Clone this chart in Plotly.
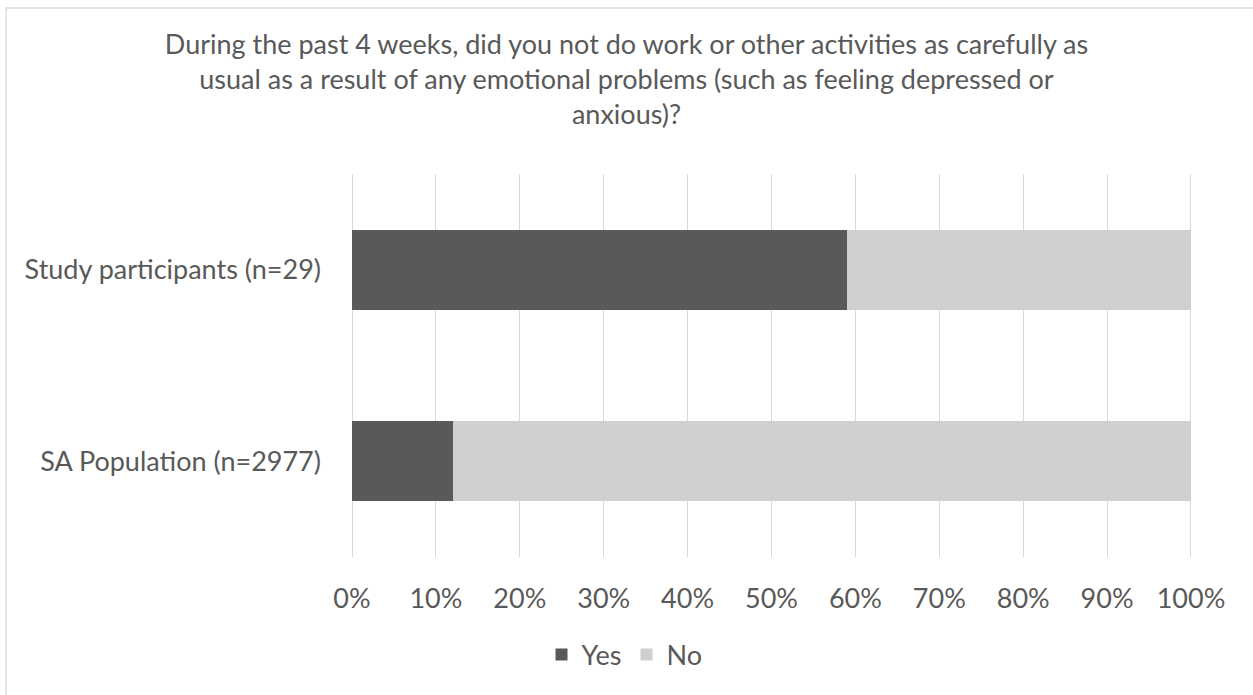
import plotly.graph_objects as go

# Survey responses (percent of respondents)
groups = ["Study participants (n=29)", "SA Population (n=2977)"]
yes_pct = [59, 12]
no_pct = [41, 88]
tick_vals = [0, 10, 20, 30, 40, 50, 60, 70, 80, 90, 100]
tick_text = ["0%", "10%", "20%", "30%", "40%", "50%", "60%", "70%", "80%", "90%", "100%"]

title_text = ("During the past 4 weeks, did you not do work or other activities as carefully as<br>"
              "usual as a result of any emotional problems (such as feeling depressed or<br>"
              "anxious)?")

FONT = "Lato"
TEXT_COLOR = "#595959"
GRID_COLOR = "#d9d9d9"
W, H = 1253, 695
L, R, T, B = 351, 61, 174, 138

fig = go.Figure()
fig.add_trace(go.Bar(y=groups, x=yes_pct, name="Yes", orientation="h",
                     marker=dict(color="#595959", line=dict(width=0))))
fig.add_trace(go.Bar(y=groups, x=no_pct, name="No", orientation="h",
                     marker=dict(color="#d0cece", line=dict(width=0))))

# Chart-area border (light grey frame)
pw, ph = W - L - R, H - T - B
fig.add_shape(type="rect", xref="paper", yref="paper",
              x0=(6 - L) / pw, x1=(W + 10 - L) / pw,
              y0=-(H + 10 - T - ph) / ph, y1=1 + (T - 8) / ph,
              line=dict(color=GRID_COLOR, width=1.3), fillcolor="rgba(0,0,0,0)", layer="below")

fig.update_layout(
    width=W, height=H,
    barmode="stack", bargap=0.58,
    margin=dict(l=L, r=R, t=T, b=B),
    paper_bgcolor="white", plot_bgcolor="white",
    font=dict(family=FONT, color=TEXT_COLOR, size=27),
    title=dict(text=title_text, x=0.5, xanchor="center", xref="container",
               y=1 - 54 / H, yanchor="top", font=dict(size=27, color=TEXT_COLOR)),
    xaxis=dict(range=[-0.12, 100.12], tickvals=tick_vals, ticktext=tick_text,
               showgrid=True, gridcolor=GRID_COLOR, gridwidth=1.3,
               zeroline=False, showline=False, ticks="", ticklabelstandoff=23,
               fixedrange=True),
    yaxis=dict(autorange="reversed", showgrid=False, zeroline=False, showline=False,
               ticks="", ticklabelstandoff=29, fixedrange=True),
    legend=dict(orientation="h", x=0.5, xref="container", xanchor="center",
                y=1 - 655 / H, yref="container", yanchor="middle",
                font=dict(size=27, color=TEXT_COLOR), traceorder="normal",
                itemwidth=30, entrywidth=40),
    showlegend=True,
)

fig.write_html("out.html")
